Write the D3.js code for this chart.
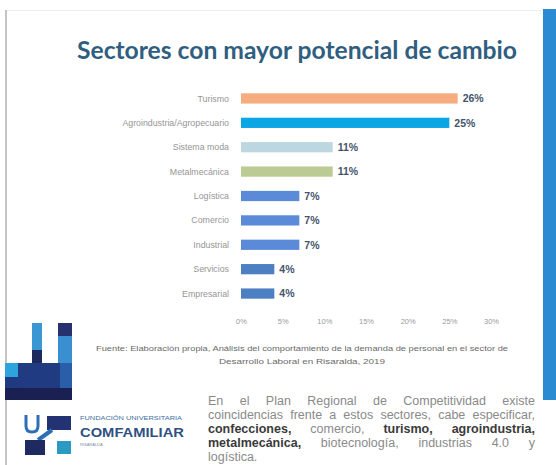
<!DOCTYPE html>
<html><head><meta charset="utf-8">
<script src="https://cdn.jsdelivr.net/npm/d3@7/dist/d3.min.js"></script>
<style>html,body{margin:0;padding:0;background:#fff;}svg{display:block;}</style>
</head><body><svg id="c" width="556" height="465"></svg>
<script>
const categories = ["Turismo","Agroindustria/Agropecuario","Sistema moda","Metalmecánica","Logística","Comercio","Industrial","Servicios","Empresarial"];
const values = [26,25,11,11,7,7,7,4,4];
const barColors = ["#f5ad7f","#0aa7e4","#bdd7e1","#bccb94","#5b8bd8","#5b8bd8","#5b8bd8","#4d7fc3","#4d7fc3"];
const tickValues = [0,5,10,15,20,25,30];
const titleText = "Sectores con mayor potencial de cambio";
const sourceLines = ["Fuente: Elaboración propia, Análisis del comportamiento de la demanda de personal en el sector de","Desarrollo Laboral en Risaralda, 2019"];
const paragraphLines = [
  [["En",0],["el",0],["Plan",0],["Regional",0],["de",0],["Competitividad",0],["existe",0]],
  [["coincidencias",0],["frente",0],["a",0],["estos",0],["sectores,",0],["cabe",0],["especificar,",0]],
  [["confecciones,",1],["comercio,",0],["turismo,",1],["agroindustria,",1]],
  [["metalmecánica,",1],["biotecnología,",0],["industrias",0],["4.0",0],["y",0]],
  [["logística.",0]]
];

const svg = d3.select("#c");

// frame
svg.append("rect").attr("x",5).attr("y",10).attr("width",2).attr("height",455).attr("fill","#c4c4c4");
svg.append("rect").attr("x",7).attr("y",10).attr("width",536).attr("height",1).attr("fill","#eeeeee");
svg.append("rect").attr("x",543).attr("y",9).attr("width",13).attr("height",391).attr("fill","#2a8ad2");

// title
svg.append("text").attr("x",77).attr("y",59).text(titleText)
  .attr("font-family","Lato, 'Open Sans', sans-serif").attr("font-weight","bold").attr("font-size",25)
  .attr("fill","#2f5e80").attr("textLength",440).attr("lengthAdjust","spacingAndGlyphs");

// chart
const x = d3.scaleLinear().domain([0,30]).range([241,491]);
const y = d3.scaleBand().domain(categories).range([86,306]).paddingInner(0.58).paddingOuter(0.3);

const g = svg.append("g");
g.selectAll("rect.bar").data(categories).join("rect").attr("class","bar")
  .attr("x",x(0)).attr("y",d=>y(d)).attr("height",y.bandwidth())
  .attr("width",(d,i)=>x(values[i])-x(0)).attr("fill",(d,i)=>barColors[i]);

g.selectAll("text.cat").data(categories).join("text").attr("class","cat")
  .attr("x",229).attr("y",d=>y(d)+y.bandwidth()/2).attr("dy","0.35em")
  .attr("text-anchor","end").attr("font-family","'Liberation Sans', Arial, sans-serif")
  .attr("font-size",8.8).attr("fill","#959595").text(d=>d);

g.selectAll("text.val").data(categories).join("text").attr("class","val")
  .attr("x",(d,i)=>x(values[i])+5).attr("y",d=>y(d)+y.bandwidth()/2).attr("dy","0.36em")
  .attr("font-family","'Liberation Sans', Arial, sans-serif").attr("font-weight","bold")
  .attr("font-size",10.5).attr("fill","#45536b").text((d,i)=>values[i]+"%");

const ax = svg.append("g").attr("transform","translate(0,316)")
  .call(d3.axisBottom(x).tickValues(tickValues).tickSize(0).tickFormat(d=>d+"%"));
ax.select(".domain").remove();
ax.selectAll("text").attr("font-family","'Liberation Sans', Arial, sans-serif").attr("font-size",7.5).attr("fill","#9a9a9a");

// source
sourceLines.forEach((s,i)=>{
  const t = svg.append("text").attr("x",302).attr("y",351+i*13).attr("text-anchor","middle")
    .attr("font-family","'Liberation Sans', Arial, sans-serif").attr("font-size",7).attr("fill","#6a6a6a").text(s);
  t.attr("textLength", i===0?412:166).attr("lengthAdjust","spacingAndGlyphs");
});

// paragraph (justified)
const px0 = 208, px1 = 535;
paragraphLines.forEach((words,li)=>{
  const yy = 405 + li*14;
  const nodes = words.map(([w,b])=> svg.append("text").attr("y",yy)
      .attr("font-family","'Liberation Sans', Arial, sans-serif").attr("font-size",12.5)
      .attr("font-weight",b?"bold":"normal").attr("fill",b?"#3a3a3a":"#8a8a8a").text(w));
  const widths = nodes.map(n=>n.node().getComputedTextLength());
  const total = d3.sum(widths);
  const last = li===paragraphLines.length-1;
  const gap = (last||words.length<2) ? 4 : (px1-px0-total)/(words.length-1);
  let cx = px0;
  nodes.forEach((n,i)=>{ n.attr("x",cx); cx += widths[i]+gap; });
});

// decorative logo (top block)
const lg = svg.append("g");
const blocks = [
  [32,323,10,27,"#3a97d4"],[32,350,10,13,"#1d2b5c"],
  [58,323,14,13,"#27316d"],[58,336,14,27,"#3a8fd0"],
  [5,363,13,14,"#2ea4dc"],[5,377,13,11,"#1f3a80"],[18,363,42,25,"#203b82"],[60,363,12,25,"#2a5ea8"],
  [5,388,67,12,"#1a2152"]
];
blocks.forEach(b=>lg.append("rect").attr("x",b[0]).attr("y",b[1]).attr("width",b[2]).attr("height",b[3]).attr("fill",b[4]));

// COMFAMILIAR logo
const cl = svg.append("g");
cl.append("path").attr("d","M26,415 L26,426 Q26,432 32,432 Q38,432 38,426 L38,415").attr("fill","none").attr("stroke","#2c6fb6").attr("stroke-width",3);
cl.append("rect").attr("x",47).attr("y",416).attr("width",24).attr("height",14).attr("fill","#223272");
cl.append("path").attr("d","M38,440 L52,430").attr("stroke","#2c6fb6").attr("stroke-width",4);
cl.append("rect").attr("x",25).attr("y",440).attr("width",20).attr("height",15).attr("fill","#1f2b60");
cl.append("rect").attr("x",57).attr("y",441).attr("width",14).attr("height",13).attr("fill","#2a9ac0");
cl.append("text").attr("x",80).attr("y",420).text("FUNDACIÓN UNIVERSITARIA")
  .attr("font-family","'Liberation Sans', Arial, sans-serif").attr("font-size",5.5).attr("fill","#3a6e9e")
  .attr("textLength",102).attr("lengthAdjust","spacingAndGlyphs");
cl.append("text").attr("x",80).attr("y",437).text("COMFAMILIAR")
  .attr("font-family","'Liberation Sans', Arial, sans-serif").attr("font-weight","bold").attr("font-size",13).attr("fill","#2e5082")
  .attr("textLength",104).attr("lengthAdjust","spacingAndGlyphs");
cl.append("text").attr("x",80).attr("y",446).text("RISARALDA")
  .attr("font-family","'Liberation Sans', Arial, sans-serif").attr("font-size",4).attr("fill","#7a8ea8");
</script></body></html>
